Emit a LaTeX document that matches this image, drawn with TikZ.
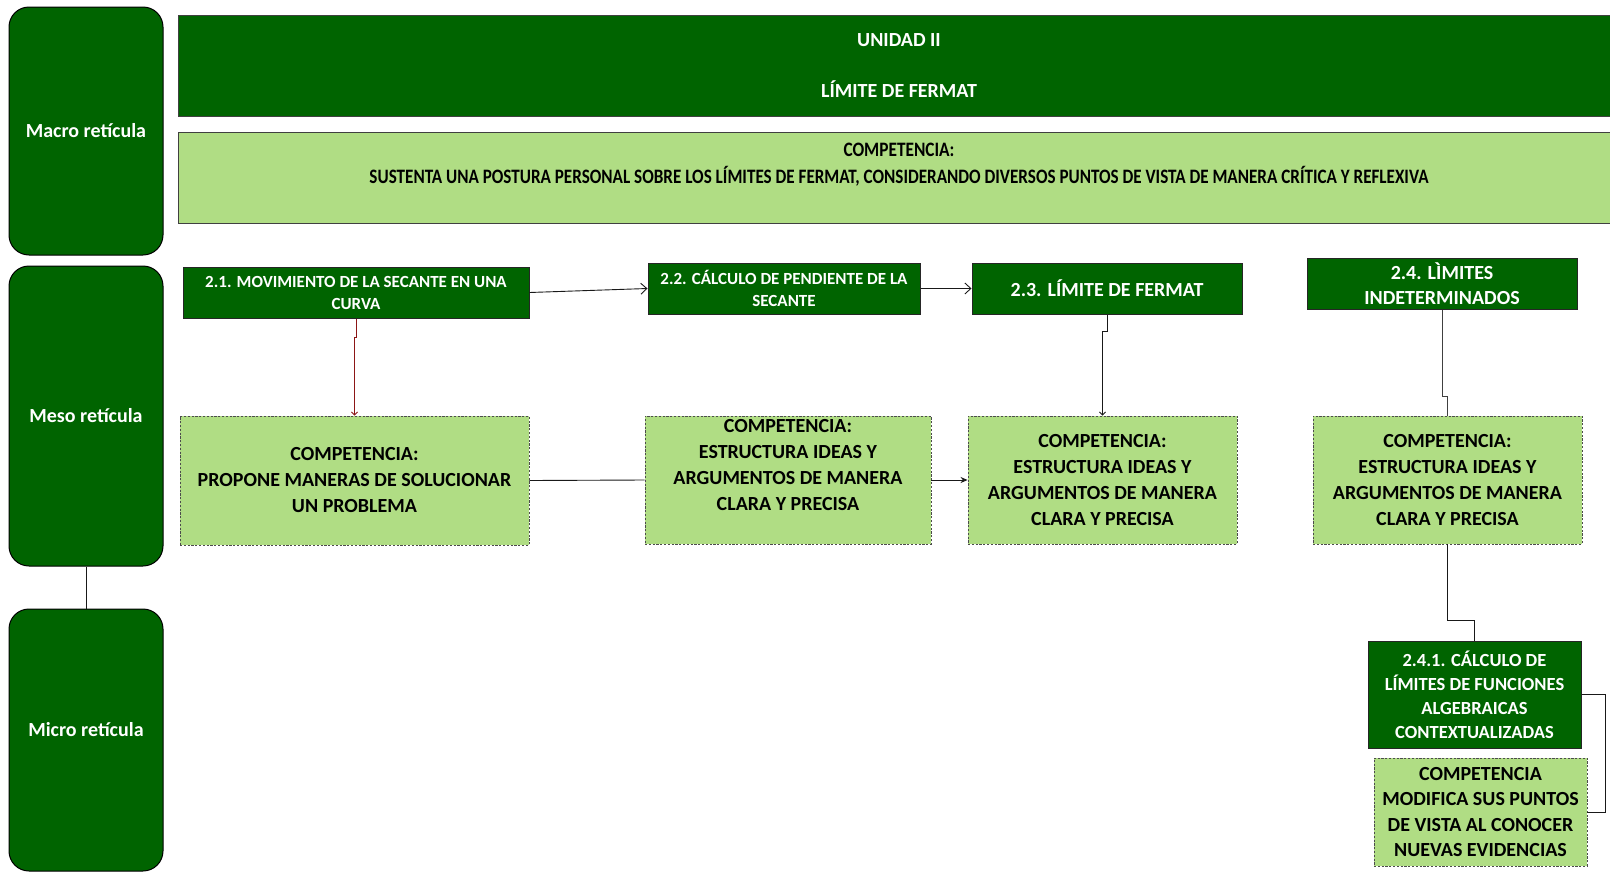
\documentclass[tikz,border=0pt]{standalone}
\usepackage{fontspec}
\setmainfont{Carlito}
\usetikzlibrary{arrows.meta}
\definecolor{dkgreen}{RGB}{0,100,0}
\definecolor{ltgreen}{RGB}{176,221,132}
\definecolor{redlink}{RGB}{140,22,22}
% shift a block of centred lines up without changing its box
\newcommand\liftlines[2]{\raisebox{#1}[\height][\depth]{\begin{tabular}{@{}c@{}}#2\end{tabular}}}
\begin{document}
\begin{tikzpicture}[x=1pt,y=-1pt,
  levelbox/.style={draw=black, line width=1pt, fill=dkgreen, rounded corners=20pt,
    text=white, font=\bfseries\fontsize{20}{24}\selectfont,
    minimum width=154pt, inner sep=0pt},
  bannerbox/.style={draw=black!75, line width=1pt, inner sep=0pt,
    minimum width=1442pt, align=center},
  topicbox/.style={draw=black!85, line width=1pt, fill=dkgreen, text=white,
    align=center, inner sep=0pt},
  compbox/.style={draw=black!70, line width=0.9pt, dash pattern=on 2.2pt off 1.6pt,
    fill=ltgreen, align=center, inner sep=0pt,
    font=\bfseries\fontsize{20}{26}\selectfont},
  link/.style={draw=black!90, line width=0.9pt},
  openarrow/.style={-{Straight Barb[length=6pt,width=11pt]}},
  smallarrow/.style={-{Straight Barb[length=3pt,width=6pt]}},
  fillarrow/.style={-{Stealth[length=7pt,width=6pt]}}
]
\useasboundingbox (0,0) rectangle (1610,873);

% level columns
\node[levelbox, minimum height=248pt] (macro) at (86,131) {Macro retícula};
\node[levelbox, minimum height=300pt] (meso) at (86,416) {Meso retícula};
\node[levelbox, minimum height=262pt] (micro) at (86,740)
  {\raisebox{10pt}[\height][\depth]{Micro retícula}};

% unit banners
\node[bannerbox, fill=dkgreen, text=white, minimum height=101pt,
  font=\bfseries\fontsize{20}{51}\selectfont] (unidad) at (899,65.5)
  {UNIDAD II\\LÍMITE DE FERMAT};
\node[bannerbox, fill=ltgreen, minimum height=91pt] (compgen) at (899,177.5) {};
\node[inner sep=0pt, align=center, font=\bfseries\fontsize{20.5}{27}\selectfont]
  (compgentext) at (899,165)
  {\resizebox{111pt}{\height}{COMPETENCIA:}\\
   \resizebox{1059pt}{\height}{SUSTENTA UNA POSTURA PERSONAL SOBRE LOS LÍMITES DE FERMAT, CONSIDERANDO DIVERSOS PUNTOS DE VISTA DE MANERA CRÍTICA Y REFLEXIVA}};

% topics
\node[topicbox, minimum width=346pt, minimum height=51pt,
  font=\bfseries\fontsize{17}{22}\selectfont] (t21) at (356,292.5)
  {2.1. MOVIMIENTO DE LA SECANTE EN UNA\\CURVA};
\node[topicbox, minimum width=272pt, minimum height=51pt,
  font=\bfseries\fontsize{17}{22}\selectfont] (t22) at (784,288.5)
  {2.2. CÁLCULO DE PENDIENTE DE LA\\SECANTE};
\node[topicbox, minimum width=270pt, minimum height=51pt,
  font=\bfseries\fontsize{20}{25}\selectfont] (t23) at (1107,288.5)
  {2.3. LÍMITE DE FERMAT};
\node[topicbox, minimum width=270pt, minimum height=51pt,
  font=\bfseries\fontsize{20}{25.5}\selectfont] (t24) at (1442,283.5)
  {2.4. LÌMITES\\INDETERMINADOS};
\node[topicbox, minimum width=213pt, minimum height=107pt,
  font=\bfseries\fontsize{18.5}{24}\selectfont] (t241) at (1474.5,694.5)
  {2.4.1. CÁLCULO DE\\LÍMITES DE FUNCIONES\\ALGEBRAICAS\\CONTEXTUALIZADAS};

% competences
\node[compbox, minimum width=349pt, minimum height=129pt] (c1) at (354.5,480.5)
  {COMPETENCIA:\\PROPONE MANERAS DE SOLUCIONAR\\UN PROBLEMA};
\node[compbox, minimum width=286pt, minimum height=128pt] (c2) at (788,480)
  {\liftlines{14pt}{COMPETENCIA:\\ESTRUCTURA IDEAS Y\\ARGUMENTOS DE MANERA\\CLARA Y PRECISA}};
\node[compbox, minimum width=269pt, minimum height=128pt] (c3) at (1102.5,480)
  {COMPETENCIA:\\ESTRUCTURA IDEAS Y\\ARGUMENTOS DE MANERA\\CLARA Y PRECISA};
\node[compbox, minimum width=269pt, minimum height=128pt] (c4) at (1447.5,480)
  {COMPETENCIA:\\ESTRUCTURA IDEAS Y\\ARGUMENTOS DE MANERA\\CLARA Y PRECISA};
\node[compbox, minimum width=213pt, minimum height=108pt,
  font=\bfseries\fontsize{20}{25.5}\selectfont] (c5) at (1480.5,812)
  {COMPETENCIA\\MODIFICA SUS PUNTOS\\DE VISTA AL CONOCER\\NUEVAS EVIDENCIAS};

% connectors
\draw[link] (meso.south) -- (micro.north);
\draw[link, openarrow] (t21.east) -- (t22.west);
\draw[link, openarrow] (t22.east) -- (t23.west);
\draw[link, draw=redlink, smallarrow] (t21.south) -- ++(0,19) -| (c1.north);
\draw[link, smallarrow] (t23.south) -- ++(0,17) -| (c3.north);
\draw[link, draw=black!75] (t24.south) -- ++(0,87) -| (c4.north);
\draw[link] (c1.east) -- (c2.west);
\draw[link, fillarrow] (c2.east) -- (c3.west);
\draw[link] (c4.south) -- ++(0,76) -| (t241.north);
\draw[link] (t241.east) -- ++(24,0) |- (c5.east);
\end{tikzpicture}
\end{document}
